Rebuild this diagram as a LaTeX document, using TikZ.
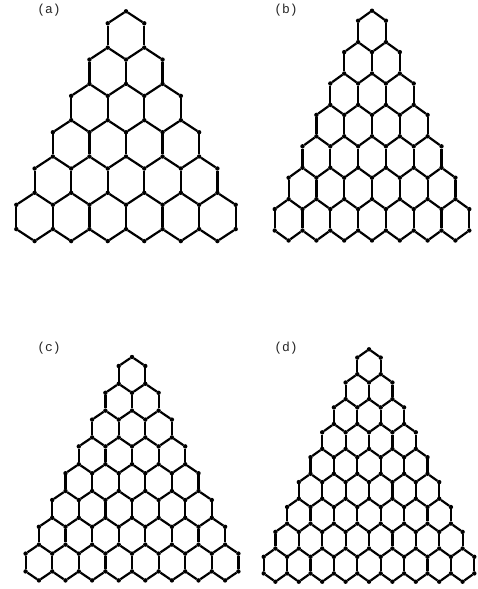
\documentclass[tikz,border=0pt]{standalone}
\usepackage{fontspec}
\setmonofont{Liberation Mono}
\tikzset{
  vtx/.style={circle,fill=black,draw=none,minimum size=4.4pt,inner sep=0pt,outer sep=0pt},
  bond/.style={draw=black,line width=2.2pt},
  tag/.style={font=\ttfamily\fontsize{13}{14}\selectfont,text=black!85,inner sep=0pt}
}
% #1 name, #2 apex x, #3 apex y, #4 rows, #5 half width, #6 a (slanted rise), #7 b (vertical edge)
\newcommand{\hexlattice}[7]{%
  \pgfmathsetmacro{\pp}{#6+#7}%
  \foreach \r in {0,...,#4}{%
    \foreach \j in {0,...,\r}{%
      \node[vtx] (#1P\r-\j) at ({#2+(2*\j-\r)*#5},{#3+\r*\pp}) {};
    }%
    \pgfmathtruncatemacro{\rr}{\r+1}%
    \foreach \j in {0,...,\rr}{%
      \ifnum\r=#4\relax
        \ifnum\j=0\relax\else\ifnum\j=\rr\relax\else
          \node[vtx] (#1V\r-\j) at ({#2+(2*\j-\r-1)*#5},{#3+\r*\pp+#6}) {};
        \fi\fi
      \else
        \node[vtx] (#1V\r-\j) at ({#2+(2*\j-\r-1)*#5},{#3+\r*\pp+#6}) {};
      \fi
    }%
  }%
  \foreach \r in {0,...,#4}{%
    \pgfmathtruncatemacro{\rr}{\r+1}%
    \foreach \j in {0,...,\r}{%
      \pgfmathtruncatemacro{\jj}{\j+1}%
      \ifnum\r=#4\relax
        \ifnum\j=0\relax\else\draw[bond] (#1P\r-\j) -- (#1V\r-\j);\fi
        \ifnum\j=\r\relax\else\draw[bond] (#1P\r-\j) -- (#1V\r-\jj);\fi
      \else
        \draw[bond] (#1P\r-\j) -- (#1V\r-\j);
        \draw[bond] (#1P\r-\j) -- (#1V\r-\jj);
      \fi
    }%
    \ifnum\r=#4\relax\else
      \foreach \j in {0,...,\rr}{%
        \draw[bond] (#1V\r-\j) -- (#1P\rr-\j);
      }%
    \fi
  }%
}
\begin{document}
\begin{tikzpicture}[x=1pt,y=-1pt]
\useasboundingbox (0,0) rectangle (478,589);
\hexlattice{a}{126}{11.3}{6}{18.28}{12}{24.3}
\hexlattice{b}{372}{10.7}{7}{13.9}{10}{21.4}
\hexlattice{c}{132}{357}{8}{13.3}{9}{17.8}
\hexlattice{d}{369}{349.3}{9}{11.7}{8.3}{16.6}
\node[tag] (la) at (49,10) {(a)};
\node[tag] (lb) at (286,10) {(b)};
\node[tag] (lc) at (49,348) {(c)};
\node[tag] (ld) at (286,348) {(d)};
\end{tikzpicture}
\end{document}
